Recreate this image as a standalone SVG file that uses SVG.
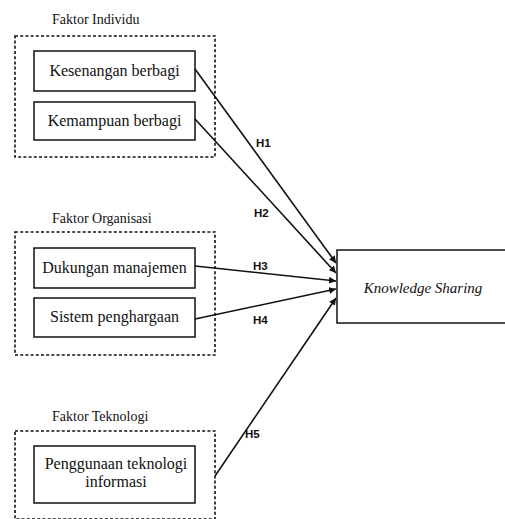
<svg xmlns="http://www.w3.org/2000/svg" width="505" height="519" viewBox="0 0 505 519">
<style>
.grp{fill:none;stroke:#111;stroke-width:1.6;stroke-dasharray:3 2.2}
.box{fill:#fff;stroke:#111;stroke-width:1.5}
.t{font-size:16px;fill:#111;text-anchor:middle}
.g{font-size:14px;fill:#111}
.h{font-size:11.5px;font-weight:bold;fill:#111}
.c{fill:none;stroke:#111;stroke-width:1.6}
</style>
<defs>
<marker id="ah" viewBox="0 0 10 10" refX="10" refY="5" markerWidth="7" markerHeight="7" markerUnits="userSpaceOnUse" orient="auto">
<path d="M0,0 L10,5 L0,10 Z" fill="#111"/>
</marker>
</defs>
<rect width="505" height="519" fill="#fff"/>
<g id="faktor-individu">
<text class="g" font-family="Liberation Serif, serif" x="52" y="24">Faktor Individu</text>
<rect class="grp" x="15" y="36" width="200" height="121"/>
</g>
<g id="kesenangan">
<rect class="box" x="34" y="51" width="161" height="40"/>
<text class="t" font-family="Liberation Serif, serif" x="114.5" y="76">Kesenangan berbagi</text>
</g>
<g id="kemampuan">
<rect class="box" x="34" y="102" width="161" height="38"/>
<text class="t" font-family="Liberation Serif, serif" x="114.5" y="126">Kemampuan berbagi</text>
</g>
<g id="faktor-organisasi">
<text class="g" font-family="Liberation Serif, serif" x="52" y="223">Faktor Organisasi</text>
<rect class="grp" x="15" y="232" width="200" height="123"/>
</g>
<g id="dukungan">
<rect class="box" x="34" y="248" width="161" height="40"/>
<text class="t" font-family="Liberation Serif, serif" x="114.5" y="273">Dukungan manajemen</text>
</g>
<g id="sistem">
<rect class="box" x="34" y="298" width="161" height="39"/>
<text class="t" font-family="Liberation Serif, serif" x="114.5" y="322">Sistem penghargaan</text>
</g>
<g id="faktor-teknologi">
<text class="g" font-family="Liberation Serif, serif" x="52" y="421">Faktor Teknologi</text>
<rect class="grp" x="15" y="431" width="200" height="88"/>
</g>
<g id="penggunaan">
<rect class="box" x="34" y="446" width="161" height="57"/>
<text class="t" font-family="Liberation Serif, serif" x="116" y="469">Penggunaan teknologi</text>
<text class="t" font-family="Liberation Serif, serif" x="116" y="487">informasi</text>
</g>
<g id="knowledge-sharing">
<rect class="box" x="337" y="250" width="170" height="73"/>
<text class="t" font-family="Liberation Serif, serif" font-style="italic" x="423" y="293" style="font-size:15px">Knowledge Sharing</text>
</g>
<g id="connectors">
<line class="c" x1="195" y1="69" x2="336" y2="263" marker-end="url(#ah)"/>
<line class="c" x1="195" y1="119" x2="336" y2="273" marker-end="url(#ah)"/>
<line class="c" x1="195" y1="266" x2="336" y2="281" marker-end="url(#ah)"/>
<line class="c" x1="195" y1="319" x2="336" y2="289" marker-end="url(#ah)"/>
<line class="c" x1="215" y1="476" x2="336" y2="298" marker-end="url(#ah)"/>
<text class="h" font-family="Liberation Sans, sans-serif" x="256" y="147">H1</text>
<text class="h" font-family="Liberation Sans, sans-serif" x="254" y="217">H2</text>
<text class="h" font-family="Liberation Sans, sans-serif" x="253" y="270">H3</text>
<text class="h" font-family="Liberation Sans, sans-serif" x="253" y="324">H4</text>
<text class="h" font-family="Liberation Sans, sans-serif" x="245" y="438">H5</text>
</g>
</svg>
